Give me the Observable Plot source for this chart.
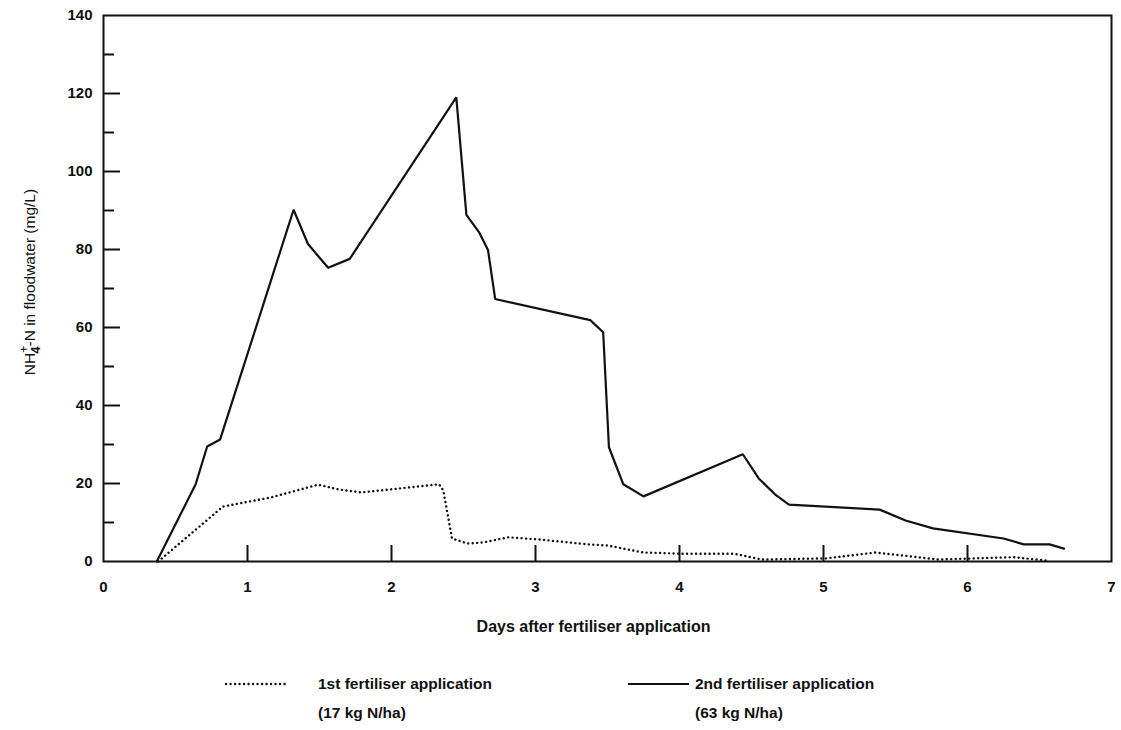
<!DOCTYPE html>
<html>
<head>
<meta charset="utf-8">
<script src="https://cdn.jsdelivr.net/npm/d3@7"></script>
<script src="https://cdn.jsdelivr.net/npm/@observablehq/plot@0.6"></script>
<style>
  body { margin: 0; background: #fff; }
  #chart { position: relative; width: 1121px; height: 730px; font-family: "Liberation Sans", Arial, sans-serif; color: #111; }
  .legend { position: absolute; font-weight: bold; font-size: 15.5px; }
</style>
</head>
<body>
<div id="chart"></div>
<script>
// Ammonium-N concentration in floodwater after each fertiliser application
const firstDay = [0.38, 0.83, 1.16, 1.49, 1.63, 1.79, 2.33, 2.36, 2.42, 2.53, 2.64, 2.81, 3.04, 3.36, 3.5, 3.75, 4.01, 4.38, 4.57, 5.02, 5.36, 5.8, 6.32, 6.56];
const firstN   = [0, 14.1, 16.4, 19.7, 18.5, 17.7, 19.8, 18.2, 5.9, 4.6, 4.9, 6.2, 5.6, 4.4, 4.1, 2.3, 2.0, 2.0, 0.5, 0.8, 2.3, 0.5, 1.1, 0.2];

const secondDay = [0.37, 0.64, 0.72, 0.81, 1.32, 1.42, 1.56, 1.71, 2.45, 2.52, 2.61, 2.67, 2.72, 3.38, 3.47, 3.51, 3.61, 3.75, 4.44, 4.55, 4.67, 4.76, 5.39, 5.57, 5.76, 6.25, 6.39, 6.57, 6.67];
const secondN   = [0, 19.8, 29.5, 31.3, 90.2, 81.4, 75.3, 77.6, 119, 88.9, 84.3, 79.9, 67.3, 61.9, 58.8, 29.3, 19.8, 16.7, 27.5, 21.3, 17.0, 14.6, 13.3, 10.5, 8.5, 5.9, 4.4, 4.4, 3.3];

const xTicks = [0, 1, 2, 3, 4, 5, 6, 7];
const yTicks = [0, 20, 40, 60, 80, 100, 120, 140];
const yMinorTicks = [10, 30, 50, 70, 90, 110, 130];
const xLabel = "Days after fertiliser application";
const legendItems = [
  {name: "1st fertiliser application", rate: "(17 kg N/ha)", dotted: true},
  {name: "2nd fertiliser application", rate: "(63 kg N/ha)", dotted: false}
];

const first = firstDay.map((d, i) => ({day: d, n: firstN[i]}));
const second = secondDay.map((d, i) => ({day: d, n: secondN[i]}));

const W = 1121, H = 650;
const mL = 103, mR = 10, mT = 15, mB = 89;
const innerW = W - mL - mR, innerH = H - mT - mB;
const font = "Liberation Sans, Arial, sans-serif";
const dotStyle = {strokeWidth: 2.4, strokeDasharray: "0.1,4.4", strokeLinecap: "round"};

const plot = Plot.plot({
  width: W,
  height: H,
  marginLeft: mL,
  marginRight: mR,
  marginTop: mT,
  marginBottom: mB,
  style: {fontFamily: font, color: "#111", background: "#fff"},
  x: {domain: [0, 7]},
  y: {domain: [0, 140]},
  marks: [
    Plot.axisX(xTicks, {tickSize: 0, tickPadding: 20, fontSize: 15, fontWeight: "bold", label: null, tickFormat: d => d}),
    Plot.axisY(yTicks, {tickSize: 0, tickPadding: 11, fontSize: 15, fontWeight: "bold", label: null, tickFormat: d => d}),
    // inward ticks
    Plot.tickY(yTicks.slice(1, -1), {y: d => d, insetRight: innerW - 17, stroke: "#111", strokeWidth: 2}),
    Plot.tickY(yMinorTicks, {y: d => d, insetRight: innerW - 11, stroke: "#111", strokeWidth: 2}),
    Plot.tickX(xTicks.slice(1, -1), {x: d => d, insetTop: innerH - 16, stroke: "#111", strokeWidth: 2}),
    Plot.frame({stroke: "#111", strokeWidth: 2}),
    Plot.line(first, {x: "day", y: "n", stroke: "#111", ...dotStyle}),
    Plot.line(second, {x: "day", y: "n", stroke: "#111", strokeWidth: 2.2, strokeLinejoin: "miter"}),
    Plot.text([xLabel], {text: d => d, frameAnchor: "bottom", dy: 70, dx: -14, fontSize: 16, fontWeight: "bold", fill: "#111"})
  ]
});

const root = document.getElementById("chart");
root.appendChild(plot);

// y-axis title with NH4+ notation
const svg = d3.select(plot);
const t = svg.append("text")
  .attr("transform", "translate(35, 282) rotate(-90)")
  .attr("text-anchor", "middle")
  .attr("font-family", font)
  .attr("font-size", 15.5)
  .attr("fill", "#111");
t.append("tspan").text("NH");
t.append("tspan").attr("font-size", 12).attr("dy", -7).text("+");
t.append("tspan").attr("font-size", 13).attr("dx", -8).attr("dy", 12).attr("font-weight", "bold").text("4");
t.append("tspan").attr("dy", -5).text("-N in floodwater (mg/L)");

// legend below the chart
const legendPos = [{x: 224, tx: 318}, {x: 626, tx: 695}];
legendItems.forEach((item, i) => {
  const p = legendPos[i];
  const sw = document.createElementNS("http://www.w3.org/2000/svg", "svg");
  sw.setAttribute("width", 66);
  sw.setAttribute("height", 10);
  sw.style.position = "absolute";
  sw.style.left = p.x + "px";
  sw.style.top = "679px";
  const ln = document.createElementNS("http://www.w3.org/2000/svg", "line");
  ln.setAttribute("x1", 2); ln.setAttribute("x2", 63);
  ln.setAttribute("y1", 5); ln.setAttribute("y2", 5);
  ln.setAttribute("stroke", "#111");
  if (item.dotted) {
    ln.setAttribute("stroke-width", dotStyle.strokeWidth);
    ln.setAttribute("stroke-dasharray", dotStyle.strokeDasharray);
    ln.setAttribute("stroke-linecap", dotStyle.strokeLinecap);
  } else {
    ln.setAttribute("stroke-width", 2.2);
  }
  sw.appendChild(ln);
  root.appendChild(sw);
  const a = document.createElement("div");
  a.className = "legend";
  a.style.left = p.tx + "px";
  a.style.top = "675px";
  a.textContent = item.name;
  root.appendChild(a);
  const b = document.createElement("div");
  b.className = "legend";
  b.style.left = p.tx + "px";
  b.style.top = "704px";
  b.textContent = item.rate;
  root.appendChild(b);
});
</script>
</body>
</html>
